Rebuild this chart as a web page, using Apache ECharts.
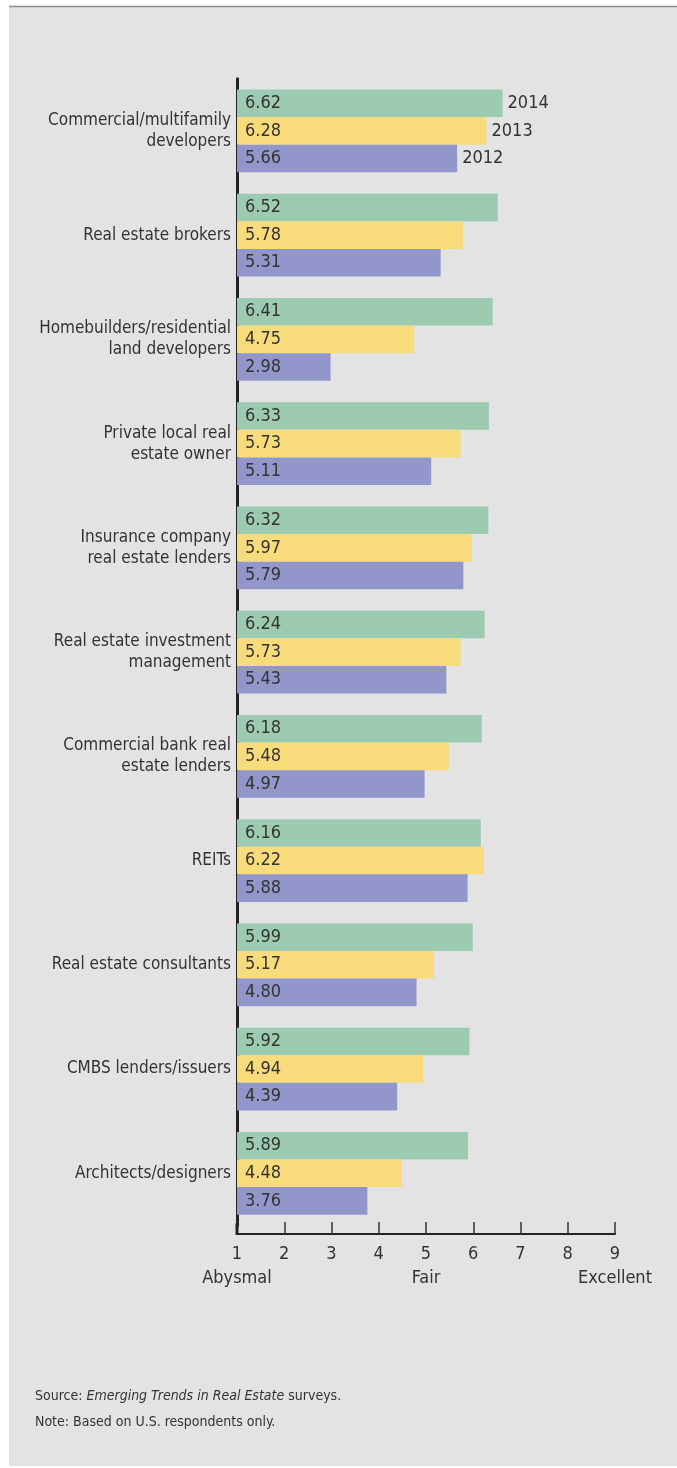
<!DOCTYPE html>
<html>
<head>
<meta charset="utf-8">
<script src="https://cdn.jsdelivr.net/npm/echarts@6/dist/echarts.min.js"></script>
<style>
html,body{margin:0;padding:0;background:#fff;}
#c{width:677px;height:1468px;}
</style>
</head>
<body>
<div id="c"></div>
<script>
var categories = [
  'Commercial/multifamily\ndevelopers',
  'Real estate brokers',
  'Homebuilders/residential\nland developers',
  'Private local real\nestate owner',
  'Insurance company\nreal estate lenders',
  'Real estate investment\nmanagement',
  'Commercial bank real\nestate lenders',
  'REITs',
  'Real estate consultants',
  'CMBS lenders/issuers',
  'Architects/designers'
];
var years = ['2014', '2013', '2012'];
var values2014 = [6.62, 6.52, 6.41, 6.33, 6.32, 6.24, 6.18, 6.16, 5.99, 5.92, 5.89];
var values2013 = [6.28, 5.78, 4.75, 5.73, 5.97, 5.73, 5.48, 6.22, 5.17, 4.94, 4.48];
var values2012 = [5.66, 5.31, 2.98, 5.11, 5.79, 5.43, 4.97, 5.88, 4.80, 4.39, 3.76];
var tickLabels = {1: 'Abysmal', 5: 'Fair', 9: 'Excellent'};

var FONT = '"Liberation Sans Narrow","DejaVu Sans Condensed","Roboto",sans-serif';
var TXT = '#333333';
var colors = ['#9ccbb2', '#f8db7a', '#9396cb'];
var seriesValues = [values2014, values2013, values2012];

var GRID_TOP = 78.8, GRID_H = 1146.6, GRID_LEFT = 237, GRID_RIGHT = 62;

var series = [];
years.forEach(function (y, i) {
  series.push({
    name: y,
    type: 'bar',
    stack: 's' + i,
    barWidth: 27.6,
    barGap: '0%',
    itemStyle: {color: colors[i]},
    label: {
      show: true,
      position: 'insideLeft',
      distance: 8,
      color: TXT,
      fontFamily: FONT,
      fontSize: 18,
      formatter: function (p) { return Number(p.value).toFixed(2); }
    },
    data: seriesValues[i],
    z: 3
  });
  series.push({
    name: y + ' label',
    type: 'bar',
    stack: 's' + i,
    barWidth: 27.6,
    barGap: '0%',
    itemStyle: {color: 'rgba(0,0,0,0)'},
    label: {
      show: true,
      position: 'right',
      distance: 5,
      color: TXT,
      fontFamily: FONT,
      fontSize: 18,
      formatter: y
    },
    data: categories.map(function (c, k) { return k === 0 ? 0 : '-'; }),
    silent: true,
    z: 3
  });
});

var chart = echarts.init(document.getElementById('c'), null, {renderer: 'canvas'});
chart.setOption({
  animation: false,
  backgroundColor: '#ffffff',
  textStyle: {fontFamily: FONT},
  graphic: [
    {type: 'rect', z: -10, shape: {x: 9, y: 6, width: 668, height: 1460}, style: {fill: '#e3e3e3'}},
    {type: 'line', z: 10, shape: {x1: 9, y1: 6.5, x2: 677, y2: 6.5}, style: {stroke: '#8c8c8c', lineWidth: 1.5}},
    {type: 'line', z: 10, shape: {x1: GRID_LEFT, y1: GRID_TOP + GRID_H - 2, x2: GRID_LEFT, y2: 1235}, style: {stroke: '#222222', lineWidth: 3}}
  ],
  title: [
    {
      left: 35, top: 1389, padding: 0,
      text: '{n|Source: }{i|Emerging Trends in Real Estate}{n| surveys.}',
      textStyle: {
        fontWeight: 'normal',
        rich: {
          n: {fontFamily: FONT, fontSize: 14, color: TXT, fontWeight: 'normal'},
          i: {fontFamily: FONT, fontSize: 14, color: TXT, fontStyle: 'italic', fontWeight: 'normal'}
        }
      }
    },
    {
      left: 35, top: 1415, padding: 0,
      text: 'Note: Based on U.S. respondents only.',
      textStyle: {fontFamily: FONT, fontSize: 14, color: TXT, fontWeight: 'normal'}
    }
  ],
  grid: {left: GRID_LEFT, right: GRID_RIGHT, top: GRID_TOP, height: GRID_H, containLabel: false},
  xAxis: {
    type: 'value',
    min: 1, max: 9, interval: 1,
    offset: 8.6,
    splitLine: {show: false},
    axisLine: {show: true, lineStyle: {color: '#222222', width: 2}},
    axisTick: {show: true, inside: true, length: 12, lineStyle: {color: '#333333', width: 1.5}},
    axisLabel: {
      margin: 8,
      color: TXT,
      fontFamily: FONT,
      fontSize: 18,
      lineHeight: 24,
      formatter: function (v) {
        return tickLabels[v] ? v + '\n' + tickLabels[v] : String(v);
      }
    }
  },
  yAxis: {
    type: 'category',
    inverse: true,
    data: categories,
    axisLine: {show: true, lineStyle: {color: '#222222', width: 3}},
    axisTick: {show: false},
    splitLine: {show: false},
    axisLabel: {
      margin: 6,
      color: TXT,
      fontFamily: FONT,
      fontSize: 17,
      lineHeight: 21,
      align: 'right'
    }
  },
  series: series
});
</script>
</body>
</html>
